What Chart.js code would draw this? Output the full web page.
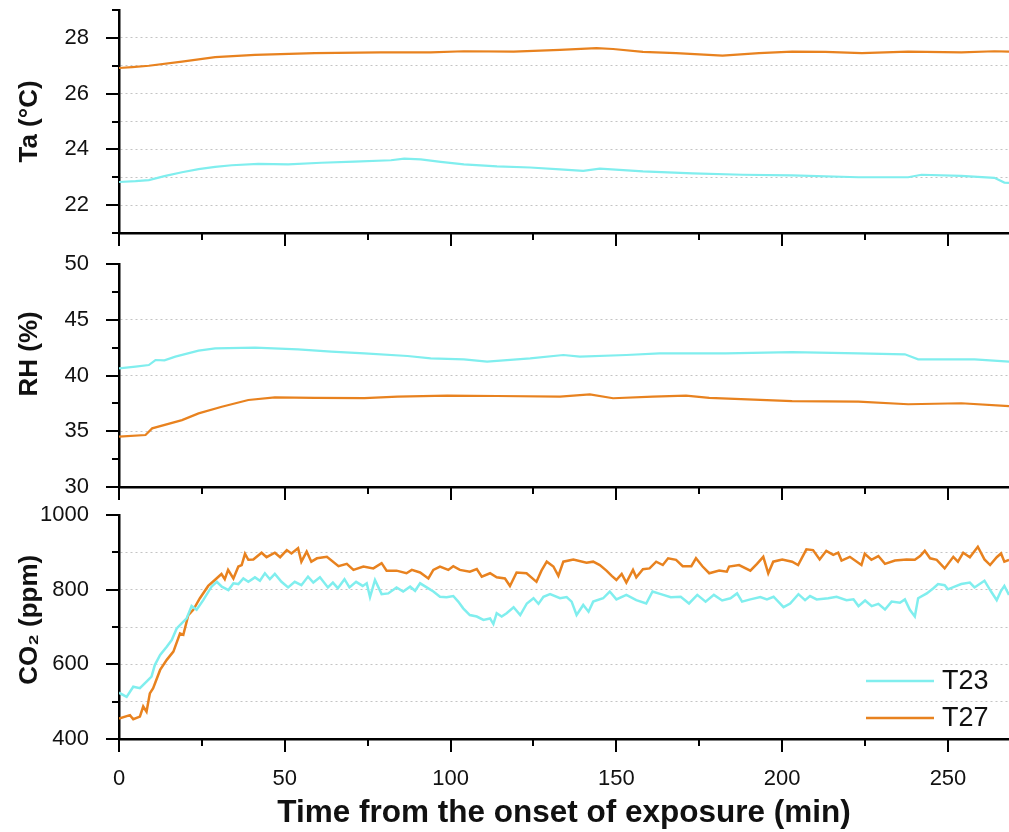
<!DOCTYPE html>
<html>
<head>
<meta charset="utf-8">
<script src="https://cdn.jsdelivr.net/npm/chart.js@4/dist/chart.umd.min.js"></script>
<style>
  body { margin: 0; background: #fff; }
  #wrap { position: relative; width: 1009px; height: 832px; }
  #wrap canvas { position: absolute; left: 0; }
</style>
</head>
<body>
<div id="wrap">
  <canvas id="ta" width="1009" height="250" style="top:0"></canvas>
  <canvas id="rh" width="1009" height="254" style="top:250px"></canvas>
  <canvas id="co2" width="1009" height="328" style="top:504px"></canvas>
</div>
<script>
// time in minutes, value
const taT23 = [[0,22.83],[5,22.86],[9,22.9],[14,23.05],[19,23.18],[24,23.29],[29,23.37],[34,23.43],[42,23.48],[51,23.46],[61,23.52],[71,23.56],[82,23.61],[86,23.67],[91,23.64],[97,23.55],[104,23.46],[114,23.39],[124,23.35],[133,23.28],[140,23.23],[145,23.31],[158,23.21],[173,23.14],[188,23.09],[203,23.07],[223,23.0],[238,23.0],[242,23.09],[254,23.05],[264,22.98],[267,22.81],[268.4,22.8]];
const taT27 = [[0,26.92],[4,26.95],[9,27.0],[19,27.15],[29,27.31],[41,27.39],[59,27.45],[79,27.48],[94,27.48],[104,27.52],[119,27.51],[133,27.57],[144,27.63],[149,27.6],[158,27.5],[168,27.45],[182,27.36],[193,27.45],[203,27.51],[213,27.5],[224,27.45],[238,27.51],[254,27.48],[264,27.52],[268.4,27.51]];

const rhT23 = [[0,40.64],[5,40.8],[9,40.94],[11,41.39],[13.7,41.36],[17,41.69],[24,42.23],[29,42.44],[41,42.5],[54,42.35],[64,42.14],[74,41.99],[87,41.75],[94,41.54],[104,41.45],[111,41.24],[124,41.54],[134,41.84],[139,41.69],[153,41.84],[163,41.99],[183,41.99],[203,42.1],[223,41.99],[237,41.9],[241,41.45],[258,41.45],[268.4,41.24]];
const rhT27 = [[0,34.51],[8,34.66],[10,35.26],[19,36.0],[24,36.6],[31,37.2],[39,37.8],[47,38.04],[59,38.0],[74,37.97],[84,38.1],[99,38.19],[114,38.16],[133,38.1],[142,38.31],[149,37.96],[161,38.1],[171,38.19],[178,37.99],[203,37.71],[223,37.66],[238,37.42],[254,37.51],[268.4,37.26]];

const co2T23 = [[0,524],[2.3,513],[4.3,540],[6.3,536],[8.3,554],[9.8,567],[10.8,598],[12.4,625],[14.4,647],[15.9,665],[17.4,696],[18.9,710],[20.4,723],[21.9,756],[23.4,746],[25.4,772],[27.9,808],[29.5,821],[31,808],[33,799],[34.5,817],[36,815],[37.5,830],[39,821],[41,833],[42.5,824],[44,844],[45.5,828],[47,842],[49,821],[51,806],[53,821],[55,812],[57,835],[58.6,819],[60.6,833],[63,806],[64.5,819],[66,804],[68,828],[69.5,806],[71.5,821],[73.5,810],[74.7,817],[75.7,780],[77.2,826],[79.2,788],[81.2,790],[83.7,806],[85.7,795],[87.8,808],[89.3,797],[90.8,817],[92.8,806],[94.8,795],[96.8,781],[98.8,780],[100.8,783],[102.3,768],[103.8,750],[105.8,732],[107.9,728],[109.9,719],[111.9,723],[112.9,708],[113.9,737],[115.4,728],[116.9,737],[119,753],[121,732],[123,763],[125,777],[126.5,762],[128,781],[130,788],[133,777],[135,780],[136.5,768],[138,732],[140,759],[141.6,741],[143,768],[146,777],[148,795],[150,774],[153,786],[156,772],[159,763],[160.9,795],[163.4,788],[166.4,780],[169.4,781],[171.9,763],[174.4,786],[176.9,768],[179.4,786],[181.9,771],[184.4,777],[186.4,790],[187.9,768],[190.4,774],[193.4,780],[195.4,774],[197.4,781],[200.4,753],[202.4,763],[204.9,788],[206.9,772],[208.4,783],[210.4,774],[213.9,777],[216.4,781],[219.4,772],[221.5,774],[223,756],[225,771],[227,756],[229,762],[231,747],[233,768],[235.5,765],[237,774],[238.5,746],[240,728],[241,777],[243.6,790],[245.6,804],[247,815],[249,812],[250,801],[252,808],[254,815],[256.6,819],[258,806],[261,824],[263,795],[264.7,772],[266,797],[267,810],[268.4,786]];
const co2T27 = [[0,455],[3.3,464],[4.3,453],[6.3,460],[7.3,487],[8.3,473],[9.3,522],[10.3,536],[12.4,585],[14.4,612],[16.4,634],[18.4,683],[19.4,679],[20.9,732],[22.4,746],[24.4,777],[26.9,810],[28.9,826],[30.9,842],[31.9,828],[32.9,853],[34.5,830],[36,862],[37,866],[38,896],[39,880],[40.5,881],[43,899],[44.5,887],[47,899],[48.6,887],[50.6,906],[52,897],[54,911],[55,875],[56.6,902],[58,875],[59.7,884],[62.7,888],[66.2,863],[68.7,869],[70.7,853],[73.7,862],[76.7,857],[79.2,871],[80.7,851],[83.7,851],[86.7,844],[88.3,853],[90.8,846],[93.3,830],[94.8,853],[96.8,862],[99.3,853],[100.8,863],[102.8,853],[105.8,848],[107.9,855],[109.4,835],[111.9,844],[113.9,833],[116.4,830],[117.9,810],[119.9,846],[122.9,844],[125.9,821],[127.4,851],[129,875],[131,862],[132.5,837],[134,875],[137,881],[141,872],[143,875],[145,866],[147,851],[148.6,837],[150,826],[151.6,842],[153,819],[155,853],[156,833],[158,855],[160,857],[162,875],[164,866],[165.6,884],[168,880],[170,863],[172.6,863],[174,884],[176,862],[178,844],[181,851],[183.3,848],[184,862],[187,866],[190.4,851],[192.4,869],[194.3,888],[195.8,844],[197.3,875],[200,881],[203,875],[204.8,866],[207.3,908],[209.3,906],[211.3,881],[213.3,904],[215.4,893],[216.9,899],[217.9,878],[220.4,888],[223.9,866],[224.9,896],[226.9,880],[229,890],[231,869],[234,878],[237.5,881],[240,880],[241.6,890],[243,904],[244.6,884],[246.6,880],[249,857],[251.6,888],[253,875],[254.6,899],[256.6,887],[259,915],[261,881],[262.7,866],[264.7,887],[266,897],[267,875],[268.4,880]];

// tick labels and gridlines
const timeLabels = [0, 50, 100, 150, 200, 250];
const taLabels = [22, 24, 26, 28];
const taGrid = [22, 23, 24, 25, 26, 27, 28];
const rhLabels = [30, 35, 40, 45, 50];
const rhGrid = [35, 40, 45];
const co2Labels = [400, 600, 800, 1000];
const co2Grid = [500, 600, 700, 800, 900];

const cyan = '#80EEEE';
const orange = '#E8821F';

Chart.defaults.font.family = "'Liberation Sans', Arial, sans-serif";
Chart.defaults.color = '#111';

// short and long tick marks (chart.js has no minor ticks)
const tickMarks = {
  id: 'tickMarks',
  afterDraw(chart, args, o) {
    const ctx = chart.ctx;
    const x = chart.scales.x, y = chart.scales.y;
    ctx.save();
    ctx.strokeStyle = '#000';
    ctx.lineWidth = 2;
    x.ticks.forEach(t => {
      const px = Math.round(x.getPixelForValue(t.value));
      const len = timeLabels.includes(t.value) ? 13 : 7;
      ctx.beginPath(); ctx.moveTo(px, x.top); ctx.lineTo(px, x.top + len); ctx.stroke();
    });
    y.ticks.forEach(t => {
      const py = Math.round(y.getPixelForValue(t.value));
      const len = o.yMajor.includes(t.value) ? 13 : 7;
      ctx.beginPath(); ctx.moveTo(y.right, py); ctx.lineTo(y.right - len, py); ctx.stroke();
    });
    ctx.restore();
  }
};

// legend inside the bottom right corner of the CO2 panel
const lineLegend = {
  id: 'lineLegend',
  afterDatasetsDraw(chart, args, o) {
    if (!o.show) return;
    const {ctx, chartArea} = chart;
    const sets = chart.data.datasets;
    ctx.save();
    ctx.font = "27px 'Liberation Sans', Arial, sans-serif";
    ctx.textBaseline = 'middle';
    sets.forEach((ds, i) => {
      const yy = chartArea.bottom - 21 - (sets.length - 1 - i) * 37;
      ctx.strokeStyle = ds.borderColor;
      ctx.lineWidth = 2.5;
      ctx.beginPath(); ctx.moveTo(chartArea.right - 143, yy); ctx.lineTo(chartArea.right - 75, yy); ctx.stroke();
      ctx.fillStyle = '#111';
      ctx.fillText(ds.label, chartArea.right - 67, yy + 1);
    });
    ctx.restore();
  }
};

function toXY(list) {
  return list.map(p => ({x: p[0], y: p[1]}));
}

function panel(id, c) {
  return new Chart(document.getElementById(id), {
    type: 'line',
    data: {
      datasets: [
        {label: 'T23', data: toXY(c.t23), borderColor: cyan, borderWidth: c.lw, pointRadius: 0, tension: 0},
        {label: 'T27', data: toXY(c.t27), borderColor: orange, borderWidth: c.lw, pointRadius: 0, tension: 0}
      ]
    },
    options: {
      responsive: false,
      animation: false,
      layout: {padding: {top: c.top, left: 0, right: 0, bottom: 0}},
      plugins: {
        legend: {display: false},
        tooltip: {enabled: false},
        tickMarks: {yMajor: c.labels},
        lineLegend: {show: c.legend}
      },
      scales: {
        x: {
          type: 'linear', min: 0, max: 268.4,
          afterFit: s => { s.height = c.xHeight; s.paddingLeft = 0; s.paddingRight = 0; },
          grid: {display: false, drawTicks: false},
          border: {color: '#000', width: 2.5},
          ticks: {
            display: c.xLabels, stepSize: 25, includeBounds: false, autoSkip: false, maxRotation: 0,
            padding: 27, font: {size: 22},
            callback: v => timeLabels.includes(v) ? v : ''
          },
          title: {
            display: c.xLabels, text: 'Time from the onset of exposure (min)',
            font: {size: 31.5, weight: 'bold'}, padding: {top: 0, bottom: 0}, color: '#111'
          }
        },
        y: {
          min: c.min, max: c.max,
          afterFit: s => { s.width = 119; s.paddingTop = 0; s.paddingBottom = 0; },
          grid: {
            drawTicks: false, lineWidth: 1,
            color: ctx => (ctx.tick && c.grid.includes(ctx.tick.value)) ? '#c4c4c4' : 'rgba(0,0,0,0)'
          },
          border: {color: '#000', width: 2.5, dash: [2, 3]},
          ticks: {
            stepSize: c.step, autoSkip: false, padding: 30, font: {size: 22},
            callback: v => c.labels.includes(v) ? v : ''
          },
          title: {
            display: true, text: c.title, font: {size: 26, weight: 'bold'},
            padding: {top: 14, bottom: 0}, color: '#111'
          }
        }
      }
    },
    plugins: [tickMarks, lineLegend]
  });
}

panel('ta', {t23: taT23, t27: taT27, lw: 2.2, top: 10, xHeight: 17, xLabels: false, legend: false,
  min: 21, max: 29, step: 1, labels: taLabels, grid: taGrid, title: 'Ta (°C)'});
panel('rh', {t23: rhT23, t27: rhT27, lw: 2.2, top: 14, xHeight: 17, xLabels: false, legend: false,
  min: 30, max: 50, step: 2.5, labels: rhLabels, grid: rhGrid, title: '      RH (%)'});
panel('co2', {t23: co2T23, t27: co2T27, lw: 2.5, top: 11, xHeight: 93, xLabels: true, legend: true,
  min: 400, max: 1000, step: 100, labels: co2Labels, grid: co2Grid, title: '  CO₂ (ppm)'});
</script>
</body>
</html>
